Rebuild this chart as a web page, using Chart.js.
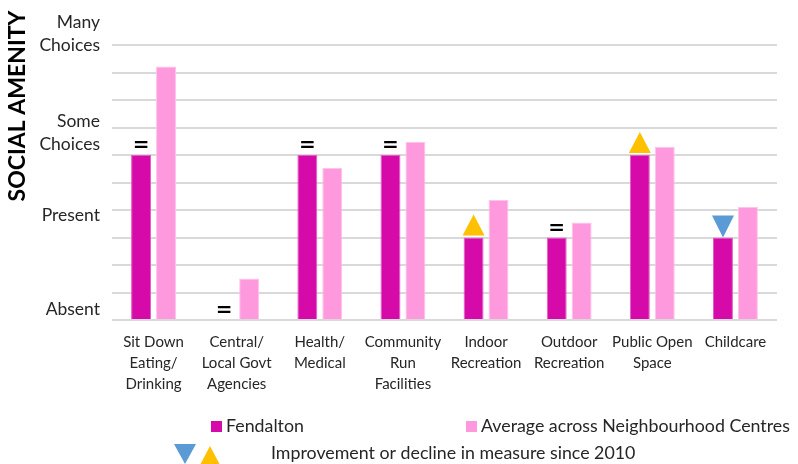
<!DOCTYPE html>
<html><head><meta charset="utf-8">
<script src="https://cdn.jsdelivr.net/npm/chart.js@4"></script>
<style>html,body{margin:0;padding:0;background:#fff}</style>
</head><body>
<canvas id="c" width="798" height="464"></canvas>
<script>
const categories = [
  ['Sit Down','Eating/','Drinking'],
  ['Central/','Local Govt','Agencies'],
  ['Health/','Medical'],
  ['Community','Run','Facilities'],
  ['Indoor','Recreation'],
  ['Outdoor','Recreation'],
  ['Public Open','Space'],
  ['Childcare']
];
const fendalton = [6, 0, 6, 6, 3, 3, 6, 3];
const average = [9.22, 1.51, 5.53, 6.48, 4.36, 3.55, 6.3, 4.12];
const changes = ['=', '=', '=', '=', 'up', '=', 'up', 'down'];
const levelLabels = [['Absent'], ['Present'], ['Some','Choices'], ['Many','Choices']];
const levelValues = [0.4, 3.8, 6.8, 10.4];
const seriesNames = ['Fendalton', 'Average across Neighbourhood Centres'];
const changeNote = 'Improvement or decline in measure since 2010';
const axisTitle = 'SOCIAL AMENITY';

const FONT = 'Lato, "Open Sans", sans-serif';
const C_DARK = '#D60AA8', C_LIGHT = '#FF99DD', C_UP = '#FFC000', C_DOWN = '#5B9BD5';
const TXT = '#262626';

function tri(ctx, cx, yBase, w, h, up, color){
  ctx.fillStyle = color;
  ctx.beginPath();
  if (up){ ctx.moveTo(cx - w/2, yBase); ctx.lineTo(cx + w/2, yBase); ctx.lineTo(cx, yBase - h); }
  else { ctx.moveTo(cx - w/2, yBase - h); ctx.lineTo(cx + w/2, yBase - h); ctx.lineTo(cx, yBase); }
  ctx.closePath(); ctx.fill();
}

const overlay = {
  id: 'overlay',
  afterDatasetsDraw(chart){
    const ctx = chart.ctx;
    const y = chart.scales.y;
    const meta = chart.getDatasetMeta(0);
    ctx.save();
    // change markers
    changes.forEach((c, i) => {
      const bar = meta.data[i];
      if (c === '='){
        ctx.fillStyle = '#000';
        ctx.font = 'bold 20px "DejaVu Sans", sans-serif';
        ctx.textAlign = 'center'; ctx.textBaseline = 'middle';
        ctx.fillText('=', bar.x, bar.y - 9);
      } else if (c === 'up'){
        tri(ctx, bar.x, bar.y - 2, 22, 21, true, C_UP);
      } else {
        tri(ctx, bar.x, bar.y, 22, 22, false, C_DOWN);
      }
    });
    // level labels
    ctx.fillStyle = TXT;
    ctx.font = '17.5px ' + FONT;
    ctx.textAlign = 'right'; ctx.textBaseline = 'middle';
    levelLabels.forEach((lines, k) => {
      const cy = y.getPixelForValue(levelValues[k]);
      const lh = 23;
      lines.forEach((t, j) => {
        ctx.fillText(t, 100, cy + (j - (lines.length - 1)/2) * lh);
      });
    });
    // axis title
    ctx.save();
    ctx.translate(18, 106);
    ctx.rotate(-Math.PI/2);
    ctx.font = 'bold 23px ' + FONT;
    ctx.fillStyle = '#000';
    ctx.textAlign = 'center'; ctx.textBaseline = 'middle';
    ctx.fillText(axisTitle, 0, 0);
    ctx.restore();
    // legend
    ctx.font = '17.8px ' + FONT;
    ctx.textAlign = 'left'; ctx.textBaseline = 'middle';
    ctx.fillStyle = C_DARK; ctx.fillRect(211, 421, 11, 11);
    ctx.fillStyle = TXT; ctx.fillText(seriesNames[0], 226, 426);
    ctx.fillStyle = C_LIGHT; ctx.fillRect(466, 421, 11, 11);
    ctx.fillStyle = TXT; ctx.fillText(seriesNames[1], 481, 426);
    tri(ctx, 185, 464, 22, 20, false, C_DOWN);
    tri(ctx, 210, 464, 19, 18, true, C_UP);
    ctx.fillStyle = TXT; ctx.fillText(changeNote, 271, 453);
    ctx.restore();
  }
};

new Chart(document.getElementById('c'), {
  type: 'bar',
  data: {
    labels: categories,
    datasets: [
      { label: seriesNames[0], data: fendalton, backgroundColor: C_DARK, borderColor: '#E45CC4', borderWidth: 1 },
      { label: seriesNames[1], data: average, backgroundColor: C_LIGHT, borderColor: '#FFC2EB', borderWidth: 1 }
    ]
  },
  options: {
    responsive: false,
    animation: false,
    categoryPercentage: 0.6,
    barPercentage: 0.8,
    layout: { padding: { top: 45, right: 21, left: 0, bottom: 0 } },
    plugins: { legend: { display: false }, tooltip: { enabled: false } },
    scales: {
      x: {
        grid: { display: false },
        border: { display: false },
        ticks: { font: { family: FONT, size: 15, lineHeight: 1.4 }, color: TXT, padding: 4, maxRotation: 0, autoSkip: false },
        afterFit(s){ s.height = 144; }
      },
      y: {
        min: 0, max: 10,
        ticks: { display: false, stepSize: 1 },
        grid: { color: '#D9D9D9', lineWidth: 2, drawTicks: false },
        border: { display: false },
        afterFit(s){ s.width = 112; }
      }
    }
  },
  plugins: [overlay]
});
</script>
</body></html>
